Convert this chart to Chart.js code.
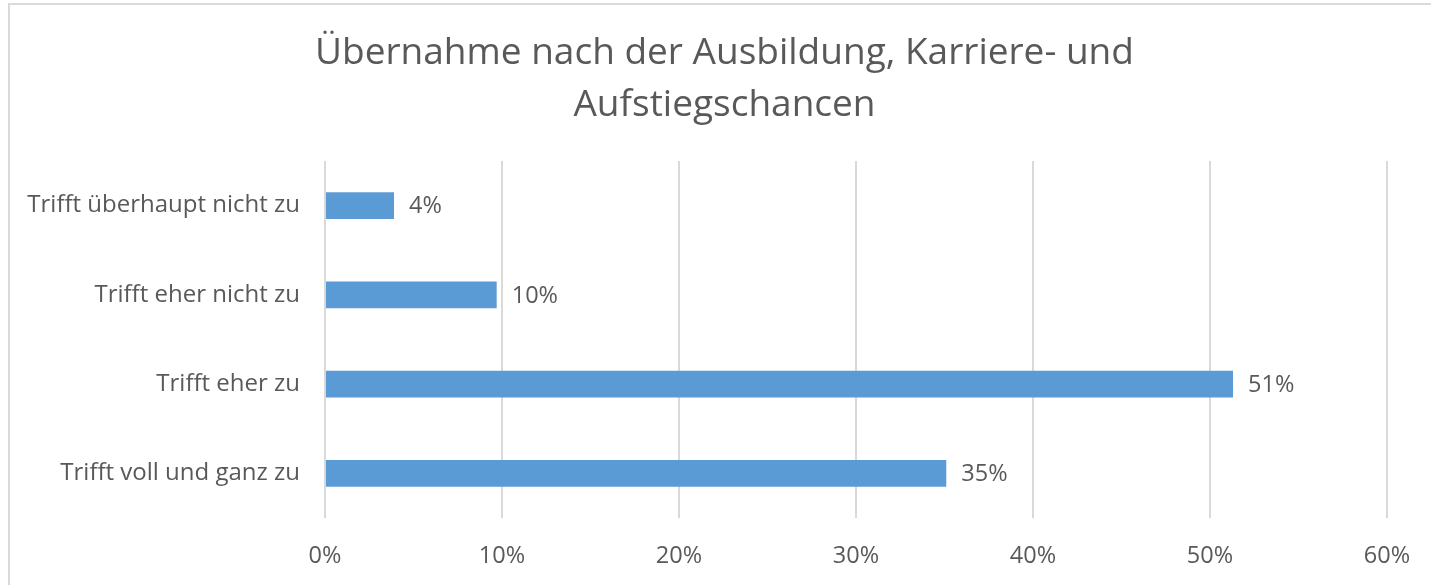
<!DOCTYPE html>
<html>
<head>
<meta charset="utf-8">
<script src="https://cdn.jsdelivr.net/npm/chart.js@4"></script>
<style>
  html, body { margin: 0; padding: 0; background: #fff; overflow: hidden; }
  #frame { position: absolute; left: 8px; top: 3px; width: 1500px; height: 700px;
           border-top: 2px solid #d9d9d9; border-left: 2px solid #d9d9d9; }
  #myChart { position: absolute; left: 9px; top: 0; }
</style>
</head>
<body>
<div id="frame"></div>
<canvas id="myChart" width="1431" height="585"></canvas>
<script>
var titleLines = ['Übernahme nach der Ausbildung, Karriere- und', 'Aufstiegschancen'];
var categories = ['Trifft überhaupt nicht zu', 'Trifft eher nicht zu', 'Trifft eher zu', 'Trifft voll und ganz zu'];
var values = [3.9, 9.7, 51.3, 35.1];
var xTicks = [0, 10, 20, 30, 40, 50, 60];

var grey = '#595959';
var font = 'Open Sans';

// value labels next to each bar
var barLabels = {
    id: 'barLabels',
    afterLayout: function (chart) {
        // centre the title on the whole canvas, not on the padded box
        var t = chart.titleBlock;
        t.left = 0;
        t.right = chart.width;
        t.width = chart.width;
    },
    afterDatasetsDraw: function (chart) {
        var ctx = chart.ctx;
        var meta = chart.getDatasetMeta(0);
        ctx.save();
        ctx.font = '23.5px "' + font + '"';
        ctx.fillStyle = grey;
        ctx.textAlign = 'left';
        ctx.textBaseline = 'middle';
        meta.data.forEach(function (bar, i) {
            ctx.fillText(Math.round(values[i]) + '%', bar.x + 15, bar.y + 1);
        });
        ctx.restore();
    }
};

const ctx = document.getElementById('myChart');

new Chart(ctx, {
    type: 'bar',
    data: {
        labels: categories,
        datasets: [{
            data: values,
            backgroundColor: '#5b9bd5',
            categoryPercentage: 1,
            barPercentage: 0.3
        }]
    },
    options: {
        indexAxis: 'y',
        responsive: false,
        animation: false,
        layout: { padding: { left: 0, right: 53, top: 0, bottom: 0 } },
        plugins: {
            legend: { display: false },
            tooltip: { enabled: false },
            title: {
                display: true,
                text: titleLines,
                color: grey,
                font: { family: font, size: 37, weight: 'normal', lineHeight: 1.405 },
                padding: { top: 27, bottom: 30 }
            }
        },
        scales: {
            x: {
                min: 0,
                max: 60,
                afterBuildTicks: function (scale) {
                    scale.ticks = xTicks.map(function (v) { return { value: v }; });
                },
                afterFit: function (scale) { scale.height = 67; },
                grid: { color: '#d9d9d9', lineWidth: 2, drawTicks: false },
                border: { display: false },
                ticks: {
                    color: grey,
                    padding: 24,
                    font: { family: font, size: 23.5 },
                    callback: function (v) { return v + '%'; }
                }
            },
            y: {
                afterFit: function (scale) { scale.width = 316; },
                grid: { display: false },
                border: { display: false },
                ticks: {
                    color: grey,
                    padding: 17,
                    font: { family: font, size: 24 }
                }
            }
        }
    },
    plugins: [barLabels]
});
</script>
</body>
</html>
